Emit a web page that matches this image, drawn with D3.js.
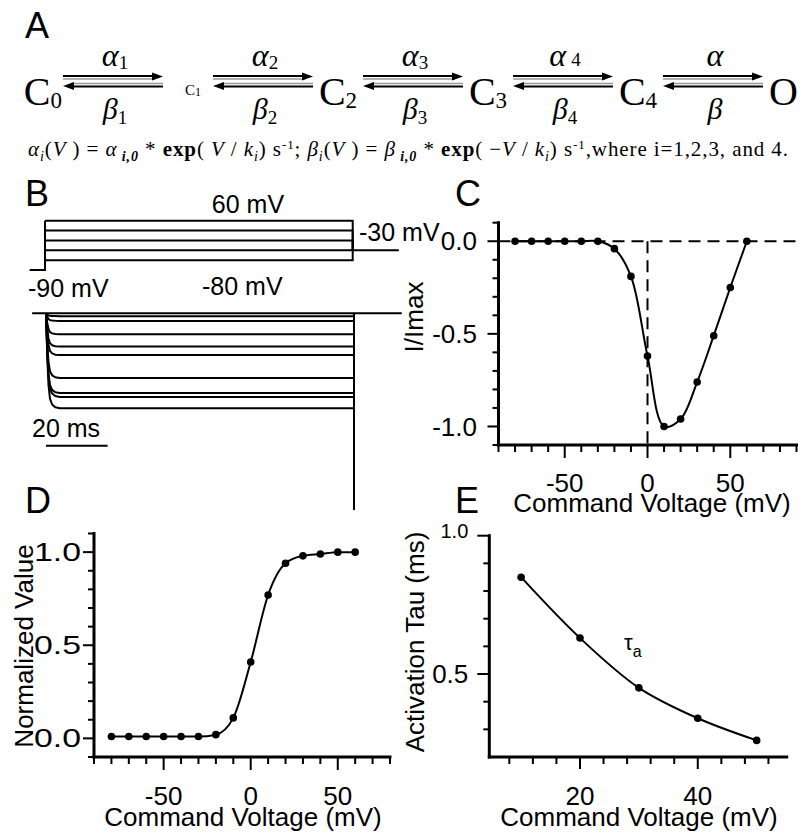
<!DOCTYPE html>
<html>
<head>
<meta charset="utf-8">
<script src="https://cdn.jsdelivr.net/npm/d3@7"></script>
<style>
  html, body { margin: 0; padding: 0; background: #fff; color: #000; }
  svg { display: block; }
</style>
</head>
<body>
<svg id="fig" width="805" height="834"></svg>
<script>
// ---------------- data ----------------
// A: six-state gating scheme
const stateNames = ["C", "C", "C", "C", "C", "O"];
const stateSubs = ["0", "1", "2", "3", "4", ""];
const forwardRates = ["α", "α", "α", "α", "α"];
const forwardSubs = ["1", "2", "3", "4", ""];
const backwardRates = ["β", "β", "β", "β", "β"];
const backwardSubs = ["1", "2", "3", "4", ""];
const formulaTokens = [
  ["α", "it"], ["i", "sub"], ["(", ""], ["V", "it"], [" ) = ", ""], ["α", "it"], [" i,0", "subb"],
  [" * ", ""], ["exp", "b"], ["( ", ""], ["V", "it"], [" / ", ""], ["k", "it"], ["i", "sub"],
  [") s", ""], ["-1", "sup"], ["; ", ""], ["β", "it"], ["i", "sub"], ["(", ""], ["V", "it"],
  [" ) = ", ""], ["β", "it"], [" i,0", "subb"], [" * ", ""], ["exp", "b"], ["( −", ""],
  ["V", "it"], [" / ", ""], ["k", "it"], ["i", "sub"], [") s", ""], ["-1", "sup"],
  [",where i=1,2,3, and 4.", ""]
];

// B: voltage protocol (mV) and simulated current traces (normalised)
const holdingPotential = -90;
const stepPotentials = [60, 30, 0, -30, -60];
const returnPotential = -30;
const pulseDuration = 100;          // ms
const currentLevels = [-0.03, -0.08, -0.22, -0.35, -0.44, -0.68, -0.84, -0.88, -1.0];
const onsetTimes = [0, 0.4, 0.8, 1.3, 2, 3, 4.5];          // ms after step
const onsetFractions = [0, 0.45, 0.75, 0.9, 0.96, 0.99, 1];
const tailPeak = -2.07;
const scaleBarMs = 20;

// C: normalised peak current vs command voltage
const ivVoltage = [-80, -70, -60, -50, -40, -30, -20, -10, 0, 10, 20, 30, 40, 50, 60];
const ivCurrent = [0, 0, 0, 0, 0, 0, -0.04, -0.19, -0.62, -1.0, -0.96, -0.76, -0.51, -0.25, 0];
const cXMajor = [-50, 0, 50];
const cXMinor = [-90, -80, -70, -60, -40, -30, -20, -10, 10, 20, 30, 40, 60, 70, 80, 90];
const cYMajor = [0, -0.5, -1.0];
const cYMinor = [0.1, -0.1, -0.2, -0.3, -0.4, -0.6, -0.7, -0.8, -0.9, -1.1];

// D: normalised conductance vs command voltage
const gvVoltage = [-80, -70, -60, -50, -40, -30, -20, -10, 0, 10, 20, 30, 40, 50, 60];
const gvValue = [0.01, 0.01, 0.01, 0.01, 0.01, 0.01, 0.02, 0.11, 0.41, 0.77, 0.94, 0.98, 0.99, 1.0, 1.0];
const dXMajor = [-50, 0, 50];
const dXMinor = [-90, -80, -70, -60, -40, -30, -20, -10, 10, 20, 30, 40, 60, 70, 80];
const dYMajor = [0, 0.5, 1.0];
const dYMinor = [-0.1, 0.1, 0.2, 0.3, 0.4, 0.6, 0.7, 0.8, 0.9, 1.1];

// E: activation time constant vs command voltage
const tauVoltage = [10, 20, 30, 40, 50];
const tauValue = [0.85, 0.63, 0.45, 0.34, 0.26];
const eXMajor = [20, 40];
const eXMinor = [8, 12, 16, 24, 28, 32, 36, 44, 48, 52];
const eYMajor = [0.5, 1.0];
const eYMinor = [0.3, 0.4, 0.6, 0.7, 0.8, 0.9];

// ---------------- drawing ----------------
const SANS = '"Liberation Sans", Arial, Helvetica, sans-serif';
const SERIF = '"Liberation Serif", "Times New Roman", serif';
const INK = "#000";
const svg = d3.select("#fig");
const axisLayer = [];   // axis frames are collected and drawn last, on top

function panelLetter(x, y, s) {
  svg.append("text").attr("x", x).attr("y", y)
    .attr("font-family", SANS).attr("font-size", 36).attr("fill", INK).text(s);
}

// ===== A =====
panelLetter(25, 38, "A");
const gA = svg.append("g");
const slot = d3.scaleLinear([0, 1], [0, 150]);
const arrowStart = k => 63 + slot(k);
const arrowEnd = k => 163 + slot(k);
const yFwd = 76, yBack = 86.5;

function arrowHead(g, tipX, y, dir) {
  g.append("path")
    .attr("d", `M${tipX},${y} L${tipX - dir * 11},${y - 4} L${tipX - dir * 11},${y + 4} Z`)
    .attr("fill", INK);
}

forwardRates.forEach((r, k) => {
  const x1 = arrowStart(k), x2 = arrowEnd(k);
  // forward arrow (dark line with a lighter shadow line under it)
  gA.append("line").attr("x1", x1).attr("x2", x2 - 8).attr("y1", yFwd + 3).attr("y2", yFwd + 3)
    .attr("stroke", "#999").attr("stroke-width", 1.5);
  gA.append("line").attr("x1", x1).attr("x2", x2 - 8).attr("y1", yFwd).attr("y2", yFwd)
    .attr("stroke", INK).attr("stroke-width", 2);
  arrowHead(gA, x2, yFwd + 0.5, 1);
  // backward arrow
  gA.append("line").attr("x1", x1 + 8).attr("x2", x2).attr("y1", yBack - 3).attr("y2", yBack - 3)
    .attr("stroke", "#999").attr("stroke-width", 1.5);
  gA.append("line").attr("x1", x1 + 8).attr("x2", x2).attr("y1", yBack).attr("y2", yBack)
    .attr("stroke", INK).attr("stroke-width", 2);
  arrowHead(gA, x1, yBack - 0.5, -1);

  const mid = (x1 + x2) / 2 + 2;
  const fa = gA.append("text").attr("x", mid).attr("y", 66).attr("text-anchor", "middle")
    .attr("font-family", SERIF).attr("font-style", "italic").attr("font-size", 32).attr("fill", INK);
  fa.append("tspan").text(r);
  if (forwardSubs[k]) fa.append("tspan").attr("font-size", 19).attr("font-style", "normal")
    .attr("dx", k === 3 ? 5 : 0).attr("dy", k === 3 ? 0 : 3).text(forwardSubs[k]);

  const ba = gA.append("text").attr("x", mid).attr("y", 119).attr("text-anchor", "middle")
    .attr("font-family", SERIF).attr("font-style", "italic").attr("font-size", 30).attr("fill", INK);
  ba.append("tspan").text(backwardRates[k]);
  if (backwardSubs[k]) ba.append("tspan").attr("font-size", 19).attr("font-style", "normal")
    .attr("dy", 5).text(backwardSubs[k]);
});

stateNames.forEach((s, i) => {
  let x, anchor;
  if (i === 0) { x = arrowStart(0) - 1; anchor = "end"; }
  else if (i === stateNames.length - 1) { x = arrowEnd(i - 1) + 6; anchor = "start"; }
  else { x = (arrowEnd(i - 1) + arrowStart(i)) / 2 + (i === 1 ? 5 : 0); anchor = "middle"; }
  const small = i === 1;
  const t = gA.append("text").attr("x", x).attr("y", small ? 95 : 105).attr("text-anchor", anchor)
    .attr("font-family", SERIF).attr("font-size", small ? 15 : 40).attr("fill", INK);
  t.append("tspan").text(s);
  if (stateSubs[i]) t.append("tspan").attr("font-size", small ? 12 : 23)
    .attr("dy", small ? 1 : 3).text(stateSubs[i]);
});

// rate-constant formula line
const formula = gA.append("text").attr("x", 28).attr("y", 156)
  .attr("font-family", SERIF).attr("font-size", 21).attr("fill", INK)
  .attr("textLength", 760).attr("lengthAdjust", "spacing");
let shift = 0;
formulaTokens.forEach(([txt, st]) => {
  const want = (st === "sub" || st === "subb") ? 5 : (st === "sup" ? -7 : 0);
  const ts = formula.append("tspan").attr("dy", want - shift).text(txt);
  shift = want;
  if (st === "it") ts.attr("font-style", "italic");
  if (st === "b") ts.attr("font-weight", "bold");
  if (st === "sub") ts.attr("font-size", 14).attr("font-style", "italic");
  if (st === "subb") ts.attr("font-size", 14).attr("font-weight", "bold").attr("font-style", "italic");
  if (st === "sup") ts.attr("font-size", 13);
});

// ===== B =====
panelLetter(25, 206, "B");
const gB = svg.append("g").attr("fill", "none").attr("stroke", INK).attr("stroke-width", 2);

// voltage protocol
const pX = d3.scaleLinear([0, pulseDuration], [45, 352.7]);
const pY = d3.scaleLinear([-90, 60], [270, 220.7]);
const protoLine = d3.line().x(d => pX(d[0])).y(d => pY(d[1]));
gB.append("path").attr("d", protoLine([[-5, holdingPotential], [0, holdingPotential], [0, d3.max(stepPotentials)]]));
stepPotentials.forEach(v => {
  gB.append("path").attr("d", protoLine([[0, v], [pulseDuration, v], [pulseDuration, returnPotential]]));
});
gB.append("path").attr("d", protoLine([[pulseDuration, returnPotential], [115, returnPotential]]));

// current traces
const tX = d3.scaleLinear([0, pulseDuration], [46, 354]);
const iY = d3.scaleLinear([0, -1], [313.3, 408.3]);
const trLine = d3.line().x(d => tX(d[0])).y(d => iY(d[1]));
gB.append("path").attr("d", trLine([[-4.5, 0], [115.5, 0]]));
currentLevels.forEach(L => {
  const pts = onsetTimes.map((t, k) => [t, L * onsetFractions[k]]);
  pts.push([pulseDuration, L], [pulseDuration, 0]);
  gB.append("path").attr("d", trLine(pts)).attr("stroke-linejoin", "round");
});
gB.append("path").attr("d", trLine([[pulseDuration, 0], [pulseDuration, tailPeak]]));

// time scale bar
gB.append("path").attr("d", d3.line()([[tX(0), 445.7], [tX(scaleBarMs), 445.7]]));

const bText = (x, y, s, anchor) => svg.append("text").attr("x", x).attr("y", y)
  .attr("text-anchor", anchor || "start").attr("font-family", SANS).attr("font-size", 25)
  .attr("fill", INK).text(s);
bText(248, 213, "60 mV", "middle");
bText(359, 241, "-30 mV");
bText(28, 297, "-90 mV");
bText(202, 295, "-80 mV");
bText(32, 437, scaleBarMs + " ms");

// ===== axis helper: axis line and ticks as filled bars placed by the scale =====
// pos = pixel position of the axis line (y for a bottom axis, x for a left axis)
function drawAxis(scale, orient, pos, major, minor, fmt, o) {
  const r = scale.range();
  const bottom = orient === "bottom";
  const lo = Math.min(r[0], r[1]), hi = Math.max(r[0], r[1]);
  const bars = [];
  bars.push(bottom ? { x: lo - 1.5, y: pos - 1.5, w: hi - lo + 3, h: 3 }
                   : { x: pos - 1.5, y: lo - 1.5, w: 3, h: hi - lo + 3 });
  major.map(v => [v, o.major]).concat(minor.map(v => [v, o.minor])).forEach(([v, len]) => {
    const p = scale(v);
    bars.push(bottom ? { x: p - 1, y: pos, w: 2, h: len } : { x: pos - len, y: p - 1, w: len, h: 2 });
  });
  axisLayer.push(...bars);
  return svg.append("g").selectAll("text").data(major).join("text")
    .attr("fill", INK).attr("font-family", SANS).attr("font-size", o.fontSize || 26)
    .attr("text-anchor", bottom ? "middle" : "end")
    .attr("x", d => bottom ? scale(d) : pos + o.label)
    .attr("y", d => bottom ? pos + o.label : scale(d))
    .attr("dy", bottom ? null : "0.35em")
    .text(fmt);
}
const fmt1 = d => d.toFixed(1);
const fmt0 = d => String(d);

function axisTitle(x, y, s, rotate) {
  svg.append("text")
    .attr("transform", `translate(${x},${y})` + (rotate ? " rotate(-90)" : ""))
    .attr("text-anchor", "middle").attr("font-family", SANS).attr("font-size", 26)
    .attr("fill", INK).text(s);
}

// ===== C =====
panelLetter(455, 206, "C");
const cx = d3.scaleLinear([-90, 90], [498.5, 796.5]);
const cy = d3.scaleLinear([-1.1, 0.1], [445, 222.7]);
const gC = svg.append("g");
gC.append("line").attr("x1", cx(-90)).attr("x2", 800).attr("y1", cy(0)).attr("y2", cy(0))
  .attr("stroke", INK).attr("stroke-width", 2).attr("stroke-dasharray", "12,7");
gC.append("line").attr("x1", cx(0)).attr("x2", cx(0)).attr("y1", cy(0)).attr("y2", cy(-1.1))
  .attr("stroke", INK).attr("stroke-width", 2).attr("stroke-dasharray", "12,7");
gC.append("path").datum(ivVoltage.map((v, i) => [v, ivCurrent[i]]))
  .attr("d", d3.line().x(d => cx(d[0])).y(d => cy(d[1])).curve(d3.curveCatmullRom.alpha(0.5)))
  .attr("fill", "none").attr("stroke", INK).attr("stroke-width", 2);
gC.selectAll("circle").data(ivVoltage).join("circle")
  .attr("cx", d => cx(d)).attr("cy", (d, i) => cy(ivCurrent[i])).attr("r", 3.8).attr("fill", INK);
drawAxis(cx, "bottom", cy.range()[0], cXMajor, cXMinor, fmt0, { minor: 7, major: 13, label: 47 });
drawAxis(cy, "left", cx.range()[0], cYMajor, cYMinor, fmt1, { minor: 6, major: 11, label: -21.5 });
axisTitle(423, 317, "I/Imax", true);
axisTitle(652, 512, "Command Voltage (mV)", false);

// ===== D =====
panelLetter(25, 513, "D");
const dx = d3.scaleLinear([-90, 80], [94, 390]);
const dyS = d3.scaleLinear([-0.1, 1.1], [757, 533.5]);
const gD = svg.append("g");
gD.append("path").datum(gvVoltage.map((v, i) => [v, gvValue[i]]))
  .attr("d", d3.line().x(d => dx(d[0])).y(d => dyS(d[1])).curve(d3.curveMonotoneX))
  .attr("fill", "none").attr("stroke", INK).attr("stroke-width", 2);
gD.selectAll("circle").data(gvVoltage).join("circle")
  .attr("cx", d => dx(d)).attr("cy", (d, i) => dyS(gvValue[i])).attr("r", 3.8).attr("fill", INK);
drawAxis(dx, "bottom", dyS.range()[0], dXMajor, dXMinor, fmt0, { minor: 7, major: 13, label: 48 });
drawAxis(dyS, "left", dx.range()[0], dYMajor, dYMinor, fmt1, { minor: 6, major: 11, label: -13 })
  .attr("textLength", 47).attr("lengthAdjust", "spacingAndGlyphs");
axisTitle(33, 646, "Normalized Value", true);
axisTitle(243, 826, "Command Voltage (mV)", false);

// ===== E =====
panelLetter(455, 513, "E");
const ex = d3.scaleLinear([4.6, 55.1], [489.3, 786.7]);
const ey = d3.scaleLinear([0.2, 1.0], [757, 535.7]);
const gE = svg.append("g");
gE.append("path").datum(tauVoltage.map((v, i) => [v, tauValue[i]]))
  .attr("d", d3.line().x(d => ex(d[0])).y(d => ey(d[1])).curve(d3.curveCatmullRom.alpha(0.5)))
  .attr("fill", "none").attr("stroke", INK).attr("stroke-width", 2);
gE.selectAll("circle").data(tauVoltage).join("circle")
  .attr("cx", d => ex(d)).attr("cy", (d, i) => ey(tauValue[i])).attr("r", 3.8).attr("fill", INK);
drawAxis(ex, "bottom", ey.range()[0], eXMajor, eXMinor, fmt0, { minor: 7, major: 12, label: 48 });
drawAxis(ey, "left", ex.range()[0], eYMajor, eYMinor, fmt1, { minor: 6, major: 12, label: -21 })
  .filter(d => d === 1).attr("font-size", 20).attr("dy", "0.1em");
axisTitle(424, 642, "Activation Tau (ms)", true);
axisTitle(639, 826, "Command Voltage (mV)", false);
const tau = gE.append("text").attr("x", 624).attr("y", 650)
  .attr("font-family", SANS).attr("font-size", 22).attr("fill", INK);
tau.append("tspan").text("τ");
tau.append("tspan").attr("font-size", 16).attr("dy", 7).text("a");

// axis frames, drawn last
svg.append("g").selectAll("rect").data(axisLayer).join("rect")
  .attr("x", d => d.x).attr("y", d => d.y).attr("width", d => d.w).attr("height", d => d.h)
  .attr("fill", INK);
</script>
</body>
</html>
